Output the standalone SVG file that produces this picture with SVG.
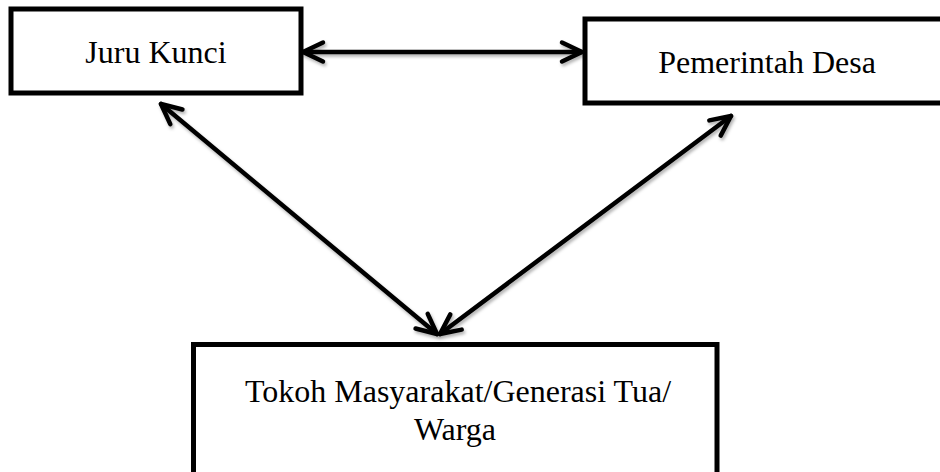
<svg xmlns="http://www.w3.org/2000/svg" width="940" height="472" viewBox="0 0 940 472">
  <style>
    .box { fill: #ffffff; stroke: #000000; stroke-width: 5; }
    .label { font-family: "Liberation Serif", "Times New Roman", serif; font-size: 32px; fill: #000000; text-anchor: middle; }
    .link { fill: none; stroke: #000000; stroke-width: 4.5; stroke-linecap: round; filter: url(#shadow); marker-start: url(#chevron); marker-end: url(#chevron); }
  </style>
  <defs>
    <!-- user-space region so the horizontal line (zero-height bbox) still renders -->
    <filter id="shadow" filterUnits="userSpaceOnUse" x="0" y="0" width="940" height="472">
      <feDropShadow dx="1.5" dy="2.5" stdDeviation="1.6" flood-color="#000000" flood-opacity="0.3"/>
    </filter>
    <marker id="chevron" markerUnits="userSpaceOnUse" viewBox="-26 -16 32 32" refX="0" refY="0" markerWidth="32" markerHeight="32" orient="auto-start-reverse" overflow="visible">
      <path d="M -20 -9.5 L 0 0 L -20 9.5" fill="none" stroke="#000000" stroke-width="4.5" stroke-linecap="round" stroke-linejoin="round"/>
    </marker>
  </defs>

  <rect width="940" height="472" fill="#ffffff"/>

  <g id="connectors">
    <line class="link" x1="303" y1="52" x2="582" y2="52"/>
    <line class="link" x1="161" y1="104" x2="437" y2="334"/>
    <line class="link" x1="731" y1="116" x2="440" y2="334"/>
  </g>

  <g id="juru-kunci">
    <rect class="box" x="11" y="9" width="290" height="84"/>
    <text class="label" x="156" y="63">Juru Kunci</text>
  </g>

  <g id="pemerintah-desa">
    <rect class="box" x="585" y="19" width="364" height="84"/>
    <text class="label" x="767" y="73">Pemerintah Desa</text>
  </g>

  <g id="tokoh-masyarakat">
    <rect class="box" x="193.5" y="344.5" width="523.5" height="140"/>
    <text class="label" x="458" y="402">Tokoh Masyarakat/Generasi Tua/</text>
    <text class="label" x="455" y="440">Warga</text>
  </g>
</svg>
